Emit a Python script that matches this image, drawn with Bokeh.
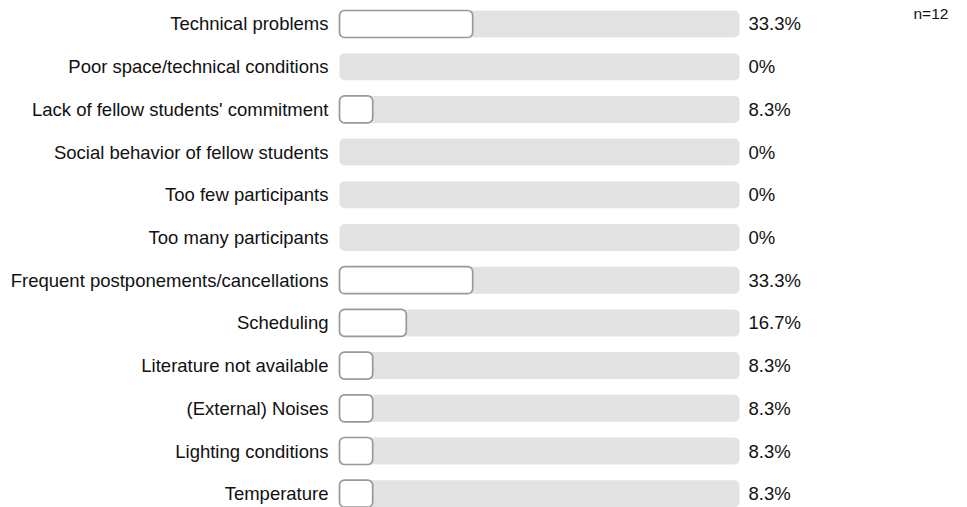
from bokeh.plotting import figure
from bokeh.models import ColumnDataSource, Range1d, Label
from bokeh.core.properties import value
from bokeh.embed import file_html
from bokeh.resources import INLINE

categories = [
    "Technical problems",
    "Poor space/technical conditions",
    "Lack of fellow students' commitment",
    "Social behavior of fellow students",
    "Too few participants",
    "Too many participants",
    "Frequent postponements/cancellations",
    "Scheduling",
    "Literature not available",
    "(External) Noises",
    "Lighting conditions",
    "Temperature",
]
percent = [33.3, 0, 8.3, 0, 0, 0, 33.3, 16.7, 8.3, 8.3, 8.3, 8.3]
value_labels = ["33.3%", "0%", "8.3%", "0%", "0%", "0%", "33.3%", "16.7%", "8.3%", "8.3%", "8.3%", "8.3%"]
n_text = "n=12"

W, H = 967, 507
FONT = "Liberation Sans"

rows = list(range(len(categories)))
src = ColumnDataSource(dict(
    row=rows,
    cat=categories,
    pct=percent,
    lbl=value_labels,
    full=[100] * len(categories),
))
nz = [i for i, v in enumerate(percent) if v > 0]
src_bar = ColumnDataSource(dict(
    row=[rows[i] for i in nz],
    pct=[percent[i] for i in nz],
))

p = figure(width=W, height=H, output_backend="svg", toolbar_location=None,
           x_range=Range1d(-84.75, 157.0), y_range=Range1d(11.323, -0.550),
           min_border=0, min_border_left=0, min_border_right=0,
           min_border_top=0, min_border_bottom=0)
p.axis.visible = False
p.grid.visible = False
p.outline_line_color = None
p.background_fill_color = "white"
p.border_fill_color = "white"

bh = 0.632
p.hbar(y="row", left=0, right="full", height=bh, source=src,
       fill_color="#e3e3e3", line_color=None, border_radius=5)
p.hbar(y="row", left=0, right="pct", height=bh, source=src_bar,
       fill_color="white", line_color="#999999", line_width=1.7, border_radius=5)

p.text(x=-2.75, y="row", text="cat", source=src, text_align="right",
       text_baseline="middle", text_font=value(FONT), text_font_size="18.5px",
       text_color="#111111")
p.text(x=102.25, y="row", text="lbl", source=src, text_align="left",
       text_baseline="middle", text_font=value(FONT), text_font_size="18.5px",
       text_color="#111111")

p.add_layout(Label(x=913, y=H - 4, x_units="screen", y_units="screen", text=n_text,
                   text_baseline="top", text_font=FONT, text_font_size="15.5px",
                   text_color="#111111"))

open("out.html", "w").write(file_html(p, INLINE))
